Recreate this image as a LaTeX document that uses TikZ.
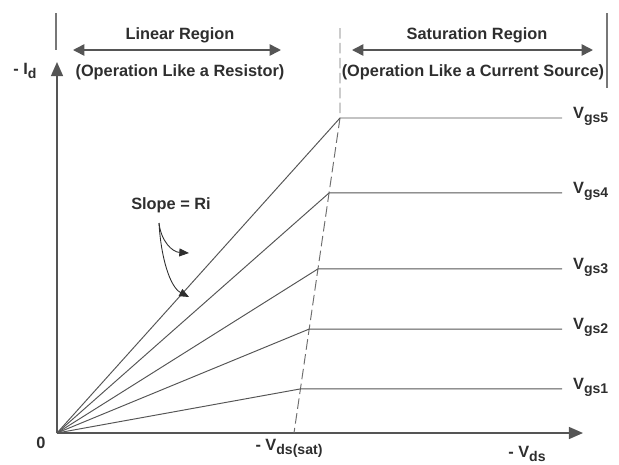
\documentclass[tikz,border=0pt]{standalone}
\usepackage{fontspec}
\setmainfont{Liberation Sans}
\usetikzlibrary{arrows.meta,calc}
\definecolor{linegray}{HTML}{555555}
\definecolor{textgray}{HTML}{2E2E2E}
\newcommand{\lowtxt}[1]{\raisebox{-0.45ex}{\fontsize{8}{9}\selectfont #1}}
\begin{document}
\begin{tikzpicture}[x=0.02cm,y=-0.02cm]
  \tikzstyle{lbl}=[font=\fontsize{9.3}{11}\selectfont\bfseries,text=textgray,inner sep=1pt]
  \tikzstyle{curve}=[draw=linegray,line width=0.55pt]
  \tikzstyle{axis}=[draw=linegray,line width=0.9pt,-{Triangle[length=8pt,width=6.8pt]}]
  \tikzstyle{span}=[draw=linegray,line width=0.9pt,{Triangle[length=6.5pt,width=6.5pt]}-{Triangle[length=6.5pt,width=6.5pt]}]
  \tikzstyle{pointer}=[draw=textgray,line width=0.5pt,-{Triangle[length=5.5pt,width=4.5pt]}]
  \useasboundingbox (0,0) rectangle (619,464);
  % axes
  \coordinate (O) at (57,433);
  \coordinate (ytip) at (57,62);
  \coordinate (xtip) at (583,433);
  \draw[axis] (O) -- (ytip);
  \draw[axis] (O) -- (xtip);
  \node [lbl] (zero) at (41,443) {0};
  \node [lbl] (id) at (25,71) {- I\lowtxt{d}};
  \node [lbl] (vds) at (527,454) {- V\lowtxt{ds}};
  \node [lbl] (vsat) at (289,448) {- V\lowtxt{ds(sat)}};
  % saturation boundary
  \coordinate (dtop) at (340,28);
  \coordinate (dknee) at (340,118);
  \coordinate (dbot) at (294,433);
  \draw[linegray!85,line width=0.55pt,dash pattern=on 6pt off 2.5pt] (dtop) -- (dknee) -- (dbot);
  % output curves
  \coordinate (xend) at (562,0);
  \foreach \i/\t in {1/0.860,2/0.670,3/0.479,4/0.238,5/0}{
    \coordinate (k\i) at ($(dknee)!\t!(dbot)$);
    \coordinate (e\i) at (k\i -| xend);
    \draw[curve] (O) -- (k\i) -- (e\i);
    \node [lbl,anchor=west] (v\i) at ([xshift=0.18cm,yshift=0.03cm]e\i) {V\lowtxt{gs\i}};
  }
  % regions
  \coordinate (lb0) at (56,13);
  \coordinate (lb1) at (56,50);
  \draw[linegray!80,line width=0.7pt] (lb0) -- (lb1);
  \coordinate (rb0) at (607,13);
  \coordinate (rb1) at (607,88);
  \draw[linegray!80,line width=0.7pt] (rb0) -- (rb1);
  \coordinate (lin0) at (73,50);
  \coordinate (lin1) at (281,50);
  \draw[span] (lin0) -- (lin1);
  \node [lbl] (lintitle) at (180,35) {Linear Region};
  \node [lbl] (linnote) at (180,72) {(Operation Like a Resistor)};
  \coordinate (sat0) at (352,50);
  \coordinate (sat1) at (593,50);
  \draw[span] (sat0) -- (sat1);
  \node [lbl] (sattitle) at (477,35) {Saturation Region};
  \node [lbl] (satnote) at (473,72) {(Operation Like a Current Source)};
  % slope note
  \node [lbl] (slope) at (171,205) {Slope = Ri};
  \coordinate (s0) at (159,223);
  \coordinate (a1) at (189,253);
  \coordinate (a2) at (189,297);
  \draw[pointer] (s0) .. controls (161,241) and (172,252) .. (a1);
  \draw[pointer] (s0) .. controls (161,258) and (170,287) .. (a2);
\end{tikzpicture}
\end{document}
